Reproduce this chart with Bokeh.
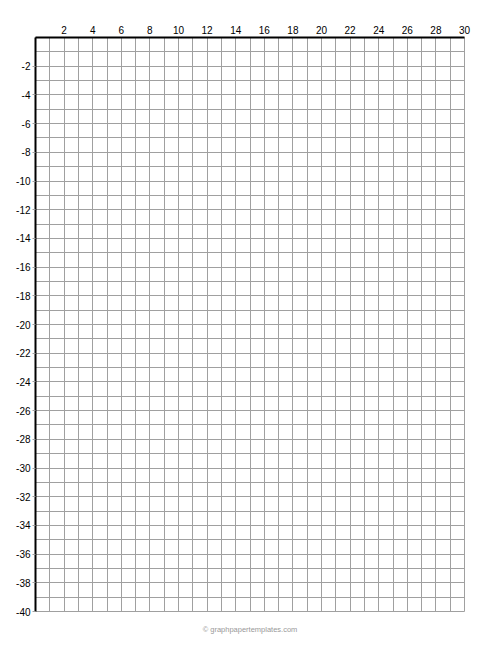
from bokeh.plotting import figure
from bokeh.models import LinearAxis, Range1d, FixedTicker, Title, CustomJSTickFormatter
from bokeh.embed import file_html
from bokeh.resources import INLINE

x_ticks = list(range(2, 31, 2))
y_ticks = list(range(-2, -41, -2))
x_grid = list(range(0, 31))
y_grid = list(range(0, -41, -1))
credit = "© graphpapertemplates.com"

p = figure(width=492, height=644, x_range=Range1d(0, 30), y_range=Range1d(-40, 0),
           output_backend="svg", toolbar_location=None, x_axis_location=None,
           y_axis_location=None, min_border_left=35, min_border_right=28,
           min_border_top=37, min_border_bottom=30)
p.outline_line_color = "#a0a0a0"
p.outline_line_width = 1
p.background_fill_color = "white"
p.border_fill_color = "white"

p.xgrid.ticker = FixedTicker(ticks=x_grid)
p.ygrid.ticker = FixedTicker(ticks=y_grid)
for g in (p.xgrid, p.ygrid):
    g.grid_line_color = "#a0a0a0"
    g.grid_line_width = 1
    g.grid_line_alpha = 1

fmt = CustomJSTickFormatter(code="return String(tick);")

font = "Liberation Sans"
xa = LinearAxis(ticker=FixedTicker(ticks=x_ticks), formatter=fmt)
xa.axis_line_color = "black"
xa.axis_line_width = 2
xa.major_tick_out = 0
xa.major_tick_in = 0
xa.minor_tick_out = 0
xa.minor_tick_in = 0
xa.major_label_standoff = 4
xa.major_label_text_font = font
xa.major_label_text_font_size = "10px"
xa.major_label_text_color = "black"
p.add_layout(xa, "above")

ya = LinearAxis(ticker=FixedTicker(ticks=y_ticks), formatter=fmt)
ya.axis_line_color = "black"
ya.axis_line_width = 2
ya.major_tick_out = 3
ya.major_tick_in = 0
ya.major_tick_line_color = "#a0a0a0"
ya.minor_tick_out = 0
ya.minor_tick_in = 0
ya.major_label_standoff = 2
ya.major_label_text_font = font
ya.major_label_text_font_size = "10px"
ya.major_label_text_color = "black"
p.add_layout(ya, "left")

t = Title(text=credit, align="center", text_font=font, text_font_size="7.5px",
          text_color="#999999", text_font_style="normal", standoff=22)
p.add_layout(t, "below")

open("out.html", "w").write(file_html(p, INLINE))
